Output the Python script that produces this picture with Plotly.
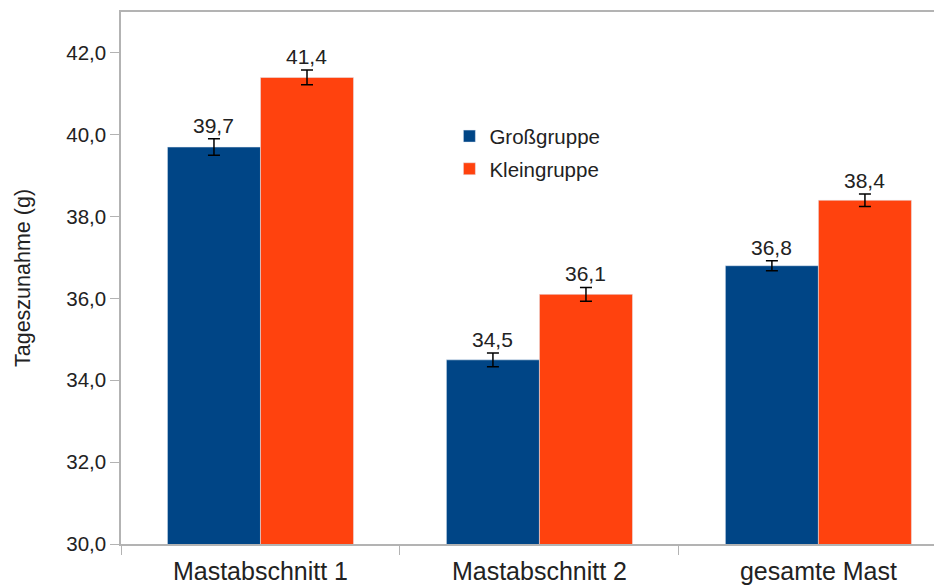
import plotly.graph_objects as go

abschnitte = ["Mastabschnitt 1", "Mastabschnitt 2", "gesamte Mast"]
gross = [39.7, 34.5, 36.8]
gross_err = [0.2, 0.17, 0.12]
klein = [41.4, 36.1, 38.4]
klein_err = [0.18, 0.17, 0.15]

blau = "#004586"
orange = "#ff420e"
achse = "#b3b3b3"

fig = go.Figure()
fig.add_trace(go.Bar(
    x=abschnitte, y=gross, name="Großgruppe", marker_color=blau, legendgroup="g",
    error_y=dict(type="data", array=gross_err, color="black", thickness=1.5, width=6),
))
fig.add_trace(go.Bar(
    x=abschnitte, y=klein, name="Kleingruppe", marker_color=orange, legendgroup="k",
    error_y=dict(type="data", array=klein_err, color="black", thickness=1.5, width=6),
))

# Wertebeschriftung ueber den Fehlerbalken
for werte, fehler, shift in [(gross, gross_err, -46.5), (klein, klein_err, 46.5)]:
    for kat, w, f in zip(abschnitte, werte, fehler):
        fig.add_annotation(
            x=kat, y=w + f, text=f"{w:.1f}".replace(".", ","),
            showarrow=False, xshift=shift, yanchor="bottom", yshift=0,
            font=dict(size=21, color="#222222"),
        )

# Seite hat 8px Rand im Browser
fig.update_layout(
    width=934, height=577,
    margin=dict(l=113, r=0, t=4, b=38),
    barmode="group", bargap=0.333, bargroupgap=0,
    plot_bgcolor="white", paper_bgcolor="white",
    font=dict(family="Liberation Sans, Arial, sans-serif", size=20.5, color="#222222"),
    separators=",.",
    legend=dict(x=0.40, y=0.804, xanchor="left", yanchor="top", tracegroupgap=3,
                font=dict(size=20.5), bgcolor="rgba(0,0,0,0)"),
    showlegend=True,
)
fig.update_xaxes(
    range=[-0.5, 2.443], tickson="boundaries", ticks="outside", ticklen=9,
    tickcolor=achse, showline=True, linecolor=achse, linewidth=1.5, mirror=True,
    showgrid=False, tickfont=dict(size=25), ticklabelstandoff=4,
)
fig.update_yaxes(
    title_text="Tageszunahme (g)", title_font=dict(size=21.5), title_standoff=30,
    range=[30, 43], tickvals=[30, 32, 34, 36, 38, 40, 42], tickformat=".1f",
    ticks="outside", ticklen=9, tickcolor=achse, showline=True, linecolor=achse,
    linewidth=1.5, showgrid=False, zeroline=False,
)

fig.write_html("out.html")
